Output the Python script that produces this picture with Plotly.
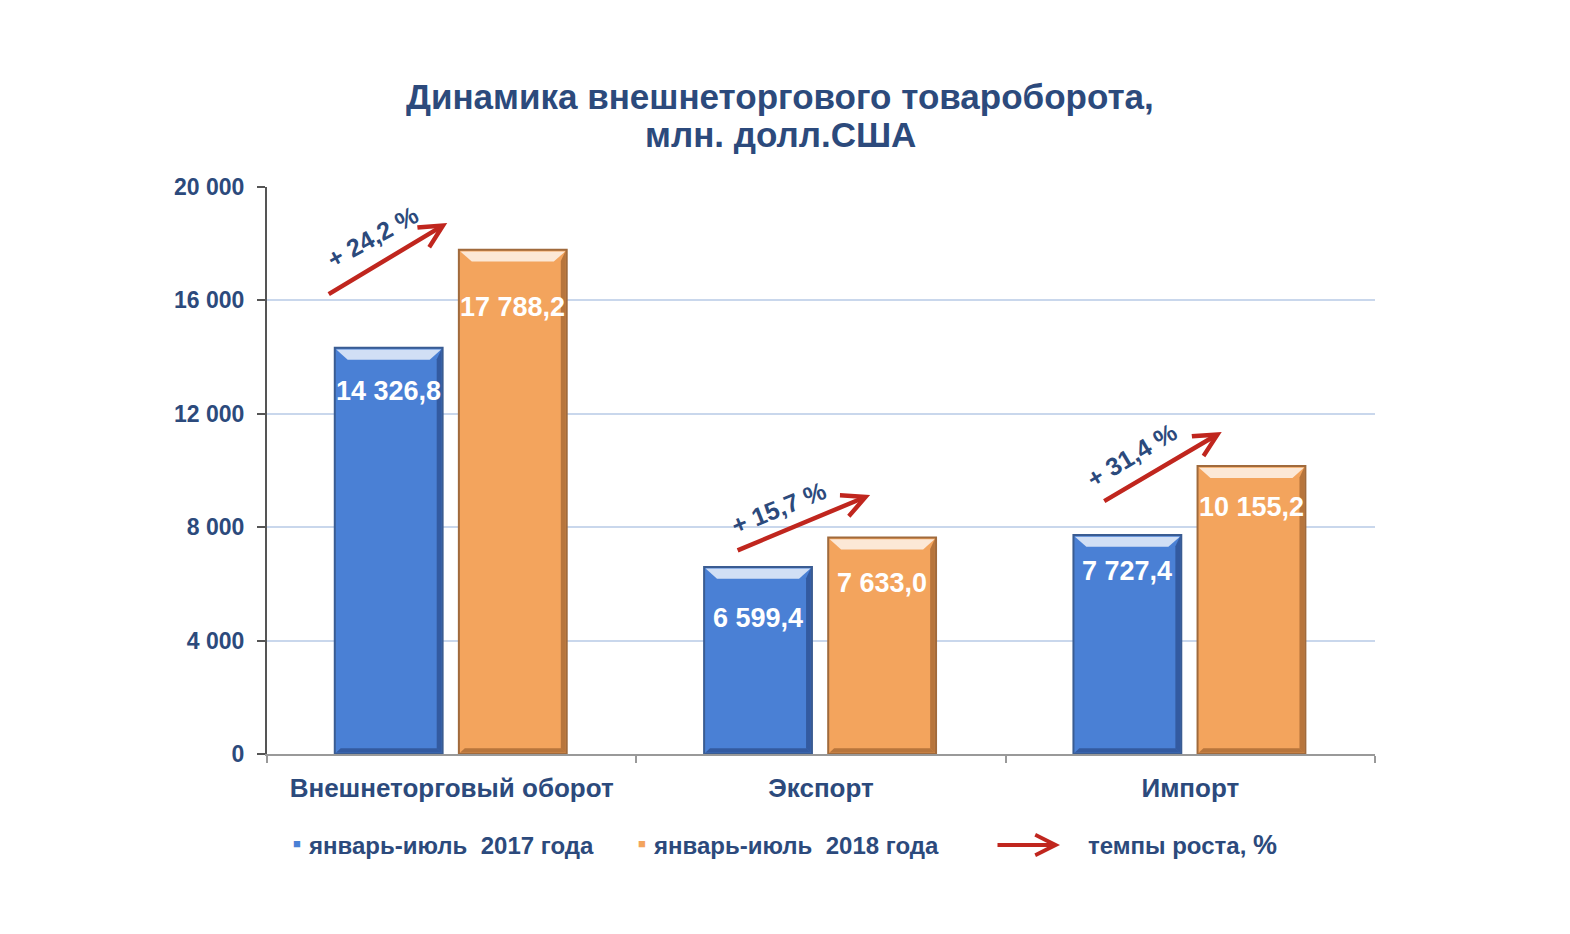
import plotly.graph_objects as go

categories = ["Внешнеторговый оборот", "Экспорт", "Импорт"]
values_2017 = [14326.8, 6599.4, 7727.4]
values_2018 = [17788.2, 7633.0, 10155.2]
series_names = ["январь-июль  2017 года", "январь-июль  2018 года"]
tick_vals = [0, 4000, 8000, 12000, 16000, 20000]
tick_text = ["0", "4 000", "8 000", "12 000", "16 000", "20 000"]
title_lines = ["Динамика внешнеторгового товароборота,", "млн. долл.США"]

TXT = "#2C4A7C"
FONT = "Liberation Sans"
BLUE = "#4A80D5"
ORANGE = "#F3A45D"
RED = "#C0261E"

fig = go.Figure()
fig.add_trace(go.Bar(
    x=categories, y=values_2017, name=series_names[0],
    marker=dict(color=BLUE, line=dict(color="#3A5C92", width=2)),
    textposition="none",
))
fig.add_trace(go.Bar(
    x=categories, y=values_2018, name=series_names[1],
    marker=dict(color=ORANGE, line=dict(color="#A06A3C", width=2)),
    textposition="none",
))

annotations = []
shapes = []
label_shift = [[-43, -51, -36], [-57, -45, -41]]
bar_off = [-0.1705, 0.1655]
half_w = 0.146
edge_col = ["rgba(25,45,95,0.45)", "rgba(110,60,20,0.45)"]
for s, vals in enumerate([values_2017, values_2018]):
    for i, v in enumerate(vals):
        txt = f"{v:,.1f}".replace(",", " ").replace(".", ",")
        annotations.append(dict(
            x=i + bar_off[s], y=v, xref="x", yref="y", text=txt, showarrow=False,
            yshift=label_shift[s][i], font=dict(family=FONT, size=27, color="white", weight="bold"),
        ))
        xc = i + bar_off[s]
        # top highlight bevel
        shapes.append(dict(
            type="path", xref="x", yref="y",
            path=(f"M {xc-half_w+0.004},{v-60} L {xc+half_w-0.004},{v-60} "
                  f"L {xc+half_w-0.035},{v-420} L {xc-half_w+0.035},{v-420} Z"),
            fillcolor="rgba(255,255,255,0.75)", line=dict(width=0),
        ))
        # right-side dark bevel
        shapes.append(dict(
            type="path", xref="x", yref="y",
            path=(f"M {xc+half_w-0.003},{v-40} L {xc+half_w-0.003},{40} "
                  f"L {xc+half_w-0.016},{200} L {xc+half_w-0.016},{v-400} Z"),
            fillcolor=edge_col[s], line=dict(width=0),
        ))
        # bottom dark bevel
        shapes.append(dict(
            type="path", xref="x", yref="y",
            path=(f"M {xc-half_w+0.003},{40} L {xc+half_w-0.003},{40} "
                  f"L {xc+half_w-0.016},{200} L {xc-half_w+0.016},{200} Z"),
            fillcolor=edge_col[s], line=dict(width=0),
        ))

growth = [(b / a - 1) * 100 for a, b in zip(values_2017, values_2018)]
arrow_head = [(-0.012, 18730), (0.133, 9136), (0.085, 11358)]
arrow_tail = [(-120, 72), (-134, 56), (-119, 70)]
label_pos = [(-0.215, 18236, -29), (-0.116, 8677, -22), (-0.158, 10547, -31)]
for i, g in enumerate(growth):
    hx, hy = arrow_head[i]
    ax, ay = arrow_tail[i]
    annotations.append(dict(
        x=i + hx, y=hy, xref="x", yref="y", ax=ax, ay=ay,
        text="", showarrow=True, arrowhead=5, arrowsize=1.0, arrowwidth=4.5, arrowcolor=RED,
    ))
    lx, ly, ang = label_pos[i]
    annotations.append(dict(
        x=i + lx, y=ly, xref="x", yref="y", text=f"+ {g:.1f} %".replace(".", ","),
        showarrow=False, textangle=ang,
        font=dict(family=FONT, size=25, color=TXT, weight="bold"),
    ))

def px(x):
    return (x - 267) / 1108

def py(y):
    return (754 - y) / 567

for line, yy in zip(title_lines, [97, 134]):
    annotations.append(dict(
        x=px(780), y=py(yy), xref="paper", yref="paper", text=line, showarrow=False,
        xanchor="center", yanchor="middle",
        font=dict(family=FONT, size=35, color=TXT, weight="bold"),
    ))

leg_font = dict(family=FONT, size=24, color=TXT, weight="bold")
annotations += [
    dict(x=px(297), y=py(843), xref="paper", yref="paper", text="■", showarrow=False,
         xanchor="center", yanchor="middle", font=dict(size=13, color=BLUE)),
    dict(x=px(306), y=py(845), xref="paper", yref="paper", text=series_names[0], showarrow=False,
         xanchor="left", yanchor="middle", font=leg_font),
    dict(x=px(642), y=py(843), xref="paper", yref="paper", text="■", showarrow=False,
         xanchor="center", yanchor="middle", font=dict(size=13, color=ORANGE)),
    dict(x=px(651), y=py(845), xref="paper", yref="paper", text=series_names[1], showarrow=False,
         xanchor="left", yanchor="middle", font=leg_font),
    dict(x=px(1060), y=py(845), xref="paper", yref="paper", ax=-64, ay=0,
         text="", showarrow=True, arrowhead=5, arrowsize=1.0,
         arrowwidth=4, arrowcolor=RED),
    dict(x=px(1086), y=py(845), xref="paper", yref="paper",
         text="темпы роста, <span style='font-size:27px'>%</span>", showarrow=False,
         xanchor="left", yanchor="middle", font=leg_font),
]

fig.update_layout(
    width=1570, height=934,
    margin=dict(l=267, r=195, t=187, b=180),
    paper_bgcolor="white", plot_bgcolor="white",
    barmode="overlay",
    showlegend=False,
    separators=", ",
    annotations=annotations,
    shapes=shapes,
)
fig.update_traces(width=2 * half_w)
fig.data[0].offset = bar_off[0] - half_w
fig.data[1].offset = bar_off[1] - half_w
fig.update_yaxes(
    range=[0, 20000], tickvals=tick_vals, ticktext=tick_text,
    showgrid=True, gridcolor="#C9D7EC", gridwidth=1.5,
    showline=True, linecolor="#555555", linewidth=2,
    ticks="outside", ticklen=8, tickcolor="#555555", tickwidth=2,
    tickfont=dict(family=FONT, size=23, color=TXT, weight="bold"),
    ticklabelstandoff=8,
    zeroline=False,
)
fig.update_xaxes(
    showline=True, linecolor="#999999", linewidth=2,
    ticks="outside", tickson="boundaries", ticklen=7, tickcolor="#999999", tickwidth=2,
    tickfont=dict(family=FONT, size=26, color=TXT, weight="bold"),
    ticklabelstandoff=10,
    range=[-0.5, 2.5],
)

fig.write_html("out.html")
